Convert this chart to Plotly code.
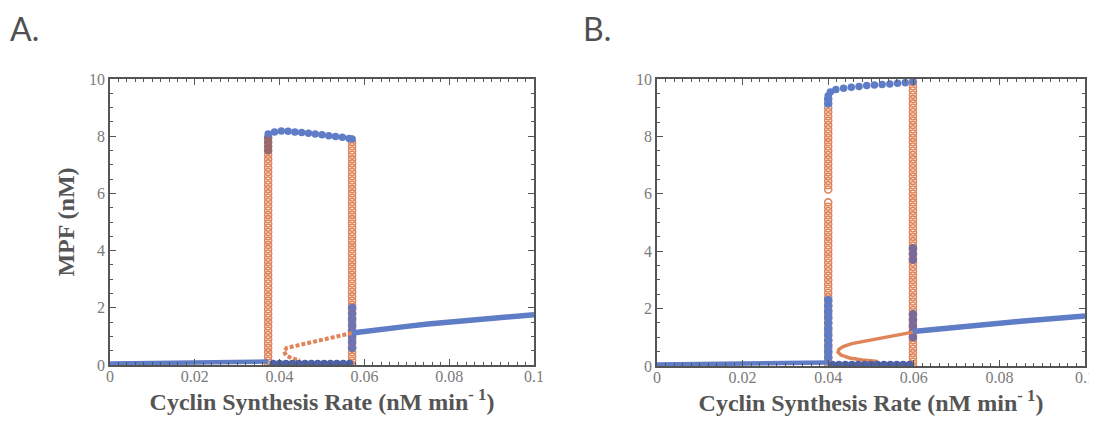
import plotly.graph_objects as go

# ---------------- data ----------------
# Panel A
a_low_x = [0.0, 0.01, 0.02, 0.03, 0.035, 0.0373]
a_low_y = [0.05, 0.06, 0.07, 0.09, 0.10, 0.12]

a_up_x = [0.0373, 0.0388, 0.0404, 0.0420, 0.0436, 0.0452, 0.0468, 0.0484, 0.0500, 0.0516, 0.0532, 0.0548, 0.0564, 0.0571]
a_up_y = [8.08, 8.15, 8.18, 8.17, 8.15, 8.13, 8.10, 8.08, 8.05, 8.02, 7.99, 7.96, 7.92, 7.90]

a_mid_x = [0.0385, 0.0400, 0.0415, 0.0430, 0.0445, 0.0460, 0.0475, 0.0490, 0.0505, 0.0520, 0.0535, 0.0550, 0.0565]
a_mid_y = [0.05, 0.05, 0.05, 0.05, 0.05, 0.05, 0.05, 0.05, 0.05, 0.05, 0.05, 0.05, 0.05]

a_high_x = [0.0571, 0.060, 0.065, 0.070, 0.075, 0.080, 0.085, 0.090, 0.095, 0.100]
a_high_y = [1.12, 1.18, 1.27, 1.35, 1.43, 1.50, 1.57, 1.64, 1.70, 1.76]

a_unst_x = [0.0571, 0.0540, 0.0500, 0.0460, 0.0430, 0.0417, 0.0410, 0.0415, 0.0428, 0.0448]
a_unst_y = [1.12, 1.02, 0.90, 0.76, 0.66, 0.60, 0.48, 0.34, 0.24, 0.16]

a_orbit_left_x = 0.0373
a_orbit_right_x = 0.0571
a_orbit_y = [0.0, 0.15, 0.3, 0.45, 0.6, 0.75, 0.9, 1.05, 1.2, 1.35, 1.5, 1.65, 1.8, 1.95,
             2.1, 2.25, 2.4, 2.55, 2.7, 2.85, 3.0, 3.15, 3.3, 3.45, 3.6, 3.75, 3.9, 4.05,
             4.2, 4.35, 4.5, 4.65, 4.8, 4.95, 5.1, 5.25, 5.4, 5.55, 5.7, 5.85, 6.0, 6.15,
             6.3, 6.45, 6.6, 6.75, 6.9, 7.05, 7.2, 7.35]
a_orbit_right_top_y = [7.5, 7.65, 7.8]
a_orbit_left_top_y = [7.5, 7.65, 7.8, 7.95]
a_orbit_right_mix_y = [0.6, 0.8, 1.0, 1.2, 1.4, 1.6, 1.8, 2.0]

# Panel B
b_low_x = [0.0, 0.01, 0.02, 0.03, 0.035, 0.040]
b_low_y = [0.05, 0.06, 0.07, 0.09, 0.10, 0.12]

b_up_x = [0.0400, 0.0405, 0.0418, 0.0436, 0.0454, 0.0472, 0.0490, 0.0508, 0.0526, 0.0544, 0.0562, 0.0580, 0.0598]
b_up_y = [9.42, 9.55, 9.63, 9.68, 9.71, 9.74, 9.77, 9.79, 9.81, 9.83, 9.85, 9.87, 9.90]

b_mid_x = [0.0410, 0.0425, 0.0440, 0.0455, 0.0470, 0.0485, 0.0500, 0.0515, 0.0530, 0.0545, 0.0560, 0.0575, 0.0590]
b_mid_y = [0.05, 0.05, 0.05, 0.05, 0.05, 0.05, 0.05, 0.05, 0.05, 0.05, 0.05, 0.05, 0.05]

b_high_x = [0.0598, 0.065, 0.070, 0.075, 0.080, 0.085, 0.090, 0.095, 0.100]
b_high_y = [1.20, 1.28, 1.36, 1.43, 1.50, 1.56, 1.62, 1.68, 1.74]

b_unst_x = [0.0598, 0.0570, 0.0530, 0.0490, 0.0455, 0.0435, 0.0425, 0.0423, 0.0430, 0.0450, 0.0480, 0.0516]
b_unst_y = [1.18, 1.10, 1.00, 0.90, 0.78, 0.68, 0.58, 0.48, 0.38, 0.28, 0.21, 0.16]

b_orbit_left_x = 0.0400
b_orbit_right_x = 0.0598
b_orbit_left_y = [0.0, 0.15, 0.3, 0.45, 0.6, 0.75, 0.9, 1.05, 1.2, 1.35, 1.5, 1.65, 1.8, 1.95,
                  2.1, 2.25, 2.4, 2.55, 2.7, 2.85, 3.0, 3.15, 3.3, 3.45, 3.6, 3.75, 3.9, 4.05,
                  4.2, 4.35, 4.5, 4.65, 4.8, 4.95, 5.1, 5.25, 5.4, 5.55, 5.7,
                  6.15, 6.3, 6.45, 6.6, 6.75, 6.9, 7.05, 7.2, 7.35, 7.5, 7.65, 7.8, 7.95,
                  8.1, 8.25, 8.4, 8.55, 8.7, 8.85, 9.0]
b_orbit_left_blue_y = [0.3, 0.5, 0.7, 0.9, 1.1, 1.3, 1.5, 1.7, 1.9, 2.1, 2.3, 9.15, 9.3]
b_orbit_right_y = [0.0, 0.15, 0.3, 0.45, 0.6, 0.75, 0.9, 1.05, 1.2, 1.35, 1.5, 1.65, 1.8, 1.95,
                   2.1, 2.25, 2.4, 2.55, 2.7, 2.85, 3.0, 3.15, 3.3, 3.45, 3.6, 3.75, 3.9, 4.05,
                   4.2, 4.35, 4.5, 4.65, 4.8, 4.95, 5.1, 5.25, 5.4, 5.55, 5.7, 5.85, 6.0, 6.15,
                   6.3, 6.45, 6.6, 6.75, 6.9, 7.05, 7.2, 7.35, 7.5, 7.65, 7.8, 7.95, 8.1, 8.25,
                   8.4, 8.55, 8.7, 8.85, 9.0, 9.15, 9.3, 9.45, 9.6, 9.75, 9.9]
b_orbit_right_mix_y = [1.0, 1.2, 1.4, 1.6, 1.8, 3.7, 3.9, 4.1]

x_ticks = [0, 0.02, 0.04, 0.06, 0.08, 0.1]
x_tick_text = ["0", "0.02", "0.04", "0.06", "0.08", "0.1"]
y_ticks = [0, 2, 4, 6, 8, 10]

x_title = "Cyclin Synthesis Rate (nM min<sup>- 1</sup>)"
y_title = "MPF (nM)"
panel_labels = ["A.", "B."]

# ---------------- styles ----------------
BLUE = "#5f7cc6"
DARKBLUE = "#4d62a6"
ORANGE = "#e0845a"
PURPLE = "#7a6a9a"
FRAME = "#555555"

fig = go.Figure()


def add_panel(xa, ya, low_x, low_y, up_x, up_y, mid_x, mid_y, high_x, high_y,
              unst_x, unst_y, unst_dash):
    fig.add_trace(go.Scatter(x=unst_x, y=unst_y, mode="lines", xaxis=xa, yaxis=ya,
                             line=dict(color=ORANGE, width=4 if unst_dash else 3.5,
                                       dash="4px,2px" if unst_dash else "solid"),
                             showlegend=False, hoverinfo="skip"))
    fig.add_trace(go.Scatter(x=low_x, y=low_y, mode="lines", xaxis=xa, yaxis=ya,
                             line=dict(color=BLUE, width=4.5), showlegend=False))
    fig.add_trace(go.Scatter(x=high_x, y=high_y, mode="lines", xaxis=xa, yaxis=ya,
                             line=dict(color=BLUE, width=5.5), showlegend=False))
    fig.add_trace(go.Scatter(x=up_x, y=up_y, mode="markers", xaxis=xa, yaxis=ya,
                             marker=dict(color=BLUE, size=7.5), showlegend=False))
    fig.add_trace(go.Scatter(x=mid_x, y=mid_y, mode="markers", xaxis=xa, yaxis=ya,
                             marker=dict(color=DARKBLUE, size=7.5), showlegend=False))


def add_orbit(xa, ya, xval, yvals, color, symbol="circle-open", size=7):
    fig.add_trace(go.Scatter(x=[xval] * len(yvals), y=yvals, mode="markers",
                             xaxis=xa, yaxis=ya,
                             marker=dict(color=color, size=size, symbol=symbol,
                                         line=dict(width=1.6, color=color)),
                             showlegend=False))


# Panel A
add_orbit("x", "y", a_orbit_left_x, a_orbit_y, ORANGE)
add_orbit("x", "y", a_orbit_right_x, a_orbit_y + a_orbit_right_top_y, ORANGE)
add_orbit("x", "y", a_orbit_left_x, a_orbit_left_top_y, "#9a6a6a", "circle", 7)
add_orbit("x", "y", a_orbit_right_x, a_orbit_right_mix_y, "#6e74b4", "circle", 7)
add_panel("x", "y", a_low_x, a_low_y, a_up_x, a_up_y, a_mid_x, a_mid_y,
          a_high_x, a_high_y, a_unst_x, a_unst_y, True)

# Panel B
add_orbit("x2", "y2", b_orbit_left_x, b_orbit_left_y, ORANGE)
add_orbit("x2", "y2", b_orbit_right_x, b_orbit_right_y, ORANGE)
add_orbit("x2", "y2", b_orbit_left_x, b_orbit_left_blue_y, BLUE, "circle", 7)
add_orbit("x2", "y2", b_orbit_right_x, b_orbit_right_mix_y, PURPLE, "circle", 7)
add_panel("x2", "y2", b_low_x, b_low_y, b_up_x, b_up_y, b_mid_x, b_mid_y,
          b_high_x, b_high_y, b_unst_x, b_unst_y, False)

tick_font = dict(family="Liberation Serif", size=16, color="#7a7a7a")
title_font = dict(family="Liberation Serif", size=24, color="#555555")

common_x = dict(range=[0, 0.1], tickvals=x_ticks, ticktext=x_tick_text,
                ticks="inside", ticklen=6, tickwidth=1.2, tickcolor=FRAME,
                showline=True, linecolor=FRAME, linewidth=1.5, mirror="allticks",
                showgrid=False, zeroline=False, tickfont=tick_font, automargin=False,
                ticklabelstandoff=-4,
                minor=dict(dtick=0.002, ticks="inside", ticklen=3, tickcolor=FRAME, showgrid=False))
common_y = dict(range=[0, 10], tickvals=y_ticks,
                ticks="inside", ticklen=6, tickwidth=1.2, tickcolor=FRAME,
                showline=True, linecolor=FRAME, linewidth=1.5, mirror="allticks",
                showgrid=False, zeroline=False, tickfont=tick_font, automargin=False,
                minor=dict(dtick=0.5, ticks="inside", ticklen=3, tickcolor=FRAME, showgrid=False))

# the page body adds an 8px offset, so the figure is drawn 8px smaller and
# all positions are given relative to the visible window minus that offset
OFF = 8
W, H = 1097 - OFF, 426 - OFF


def px_x(p):
    return (p - OFF) / W


def px_y(p):
    return 1 - (p - OFF) / H


fig.update_layout(
    width=W, height=H,
    margin=dict(l=0, r=0, t=0, b=0, pad=0),
    paper_bgcolor="white", plot_bgcolor="white",
    xaxis=dict(domain=[px_x(110), px_x(534)], anchor="y",
               title=dict(text="<b>" + x_title + "</b>", font=title_font, standoff=8), **common_x),
    yaxis=dict(domain=[px_y(365), px_y(79)], anchor="x",
               title=dict(text="<b>" + y_title + "</b>", font=title_font, standoff=8), **common_y),
    xaxis2=dict(domain=[px_x(657), px_x(1085)], anchor="y2",
                title=dict(text="<b>" + x_title + "</b>", font=title_font, standoff=8), **common_x),
    yaxis2=dict(domain=[px_y(366), px_y(79)], anchor="x2", **common_y),
    annotations=[
        dict(text=panel_labels[0], x=px_x(9), y=1, xref="paper", yref="paper",
             xanchor="left", yanchor="top", showarrow=False, borderpad=0,
             font=dict(family="Lato", size=32, color="#505050")),
        dict(text=panel_labels[1], x=px_x(582), y=1, xref="paper", yref="paper",
             xanchor="left", yanchor="top", showarrow=False, borderpad=0,
             font=dict(family="Lato", size=32, color="#505050")),
    ],
)

fig.write_html("out.html")
